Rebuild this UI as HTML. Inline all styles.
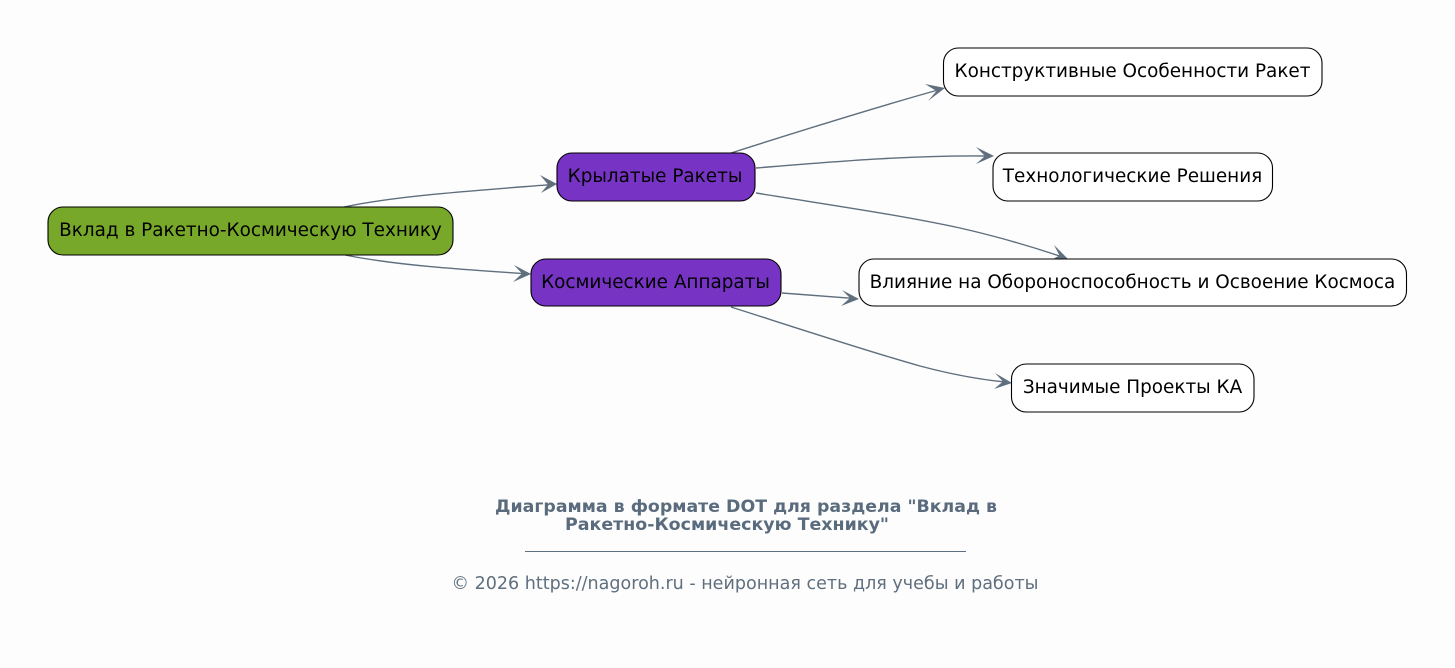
<!DOCTYPE html>
<html>
<head>
<meta charset="utf-8">
<style>
html,body{margin:0;padding:0;background:#fdfdfd}
svg{display:block}
text{font-family:"DejaVu Sans",sans-serif}
.n{font-size:18.4px;fill:#000;text-anchor:middle}
.b{stroke:#000;stroke-width:1.1}
.e{fill:none;stroke:#5f6f7e;stroke-width:1.4}
.a{fill:#5f6f7e;stroke:none}
.t{font-size:17.3px;font-weight:bold;fill:#5a6b7d;text-anchor:middle}
.f{font-size:17.5px;fill:#5f6f7e;text-anchor:middle}
</style>
</head>
<body>
<svg width="1455" height="668" viewBox="0 0 1455 668" xmlns="http://www.w3.org/2000/svg">
<rect width="1455" height="668" fill="#fdfdfd"/>

<path class="e" d="M344 207C395 196 470 191 550 184.700"/>
<polygon class="a" points="557,184 540,175 548,184.500 541,193"/>
<path class="e" d="M345 255C395 265 455 269 524 273.600"/>
<polygon class="a" points="531,274 514,265 522,273.500 513,282"/>
<path class="e" d="M731 153C800 131 870 109 938 90"/>
<polygon class="a" points="945,88 925,84 936.500,91 928,101"/>
<path class="e" d="M756 168C830 162 910 155 987 156"/>
<polygon class="a" points="994,156 976,147 985,156 976,164"/>
<path class="e" d="M756 193C830 205 900 215 960 228C995 236 1030 246 1061 256.500"/>
<polygon class="a" points="1068,259 1054,245 1059.500,255.500 1049,261"/>
<path class="e" d="M782 293L852 298.300"/>
<polygon class="a" points="859,299 842,290 850,298 841,306"/>
<path class="e" d="M731 307C800 329 870 352 920 366C950 374 975 379 1005 382"/>
<polygon class="a" points="1012,383 995,373 1003,381.500 994,389"/>

<rect class="b" x="48" y="207" width="405" height="48" rx="15" fill="#78a82a"/>
<text class="n" x="250.500" y="236">Вклад в Ракетно-Космическую Технику</text>

<rect class="b" x="557" y="153" width="198" height="48" rx="15" fill="#7734c4"/>
<text class="n" x="655" y="182">Крылатые Ракеты</text>

<rect class="b" x="531" y="259" width="250" height="47" rx="15" fill="#7734c4"/>
<text class="n" x="655.500" y="288">Космические Аппараты</text>

<rect class="b" x="943.500" y="48" width="378.500" height="48" rx="15" fill="#fff"/>
<text class="n" x="1132.500" y="77">Конструктивные Особенности Ракет</text>

<rect class="b" x="993" y="153" width="279.500" height="48" rx="15" fill="#fff"/>
<text class="n" x="1132.500" y="182">Технологические Решения</text>

<rect class="b" x="859" y="259" width="547.500" height="47" rx="15" fill="#fff"/>
<text class="n" x="1132.500" y="288">Влияние на Обороноспособность и Освоение Космоса</text>

<rect class="b" x="1011.500" y="364" width="242.500" height="48" rx="15" fill="#fff"/>
<text class="n" x="1132.500" y="393">Значимые Проекты КА</text>

<text class="t" x="746" y="512" textLength="502" lengthAdjust="spacingAndGlyphs">Диаграмма в формате DOT для раздела "Вклад в</text>
<text class="t" x="727" y="530" textLength="324" lengthAdjust="spacingAndGlyphs">Ракетно-Космическую Технику"</text>
<line x1="525" y1="551.500" x2="966" y2="551.500" stroke="#5f6f7e" stroke-width="1"/>
<text class="f" x="745" y="589" textLength="587" lengthAdjust="spacingAndGlyphs">© 2026 https://nagoroh.ru - нейронная сеть для учебы и работы</text>
</svg>
</body>
</html>
